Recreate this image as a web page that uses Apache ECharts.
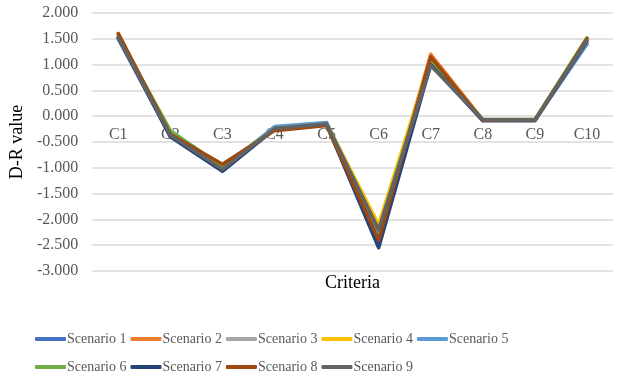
<!DOCTYPE html>
<html>
<head>
<meta charset="utf-8">
<script src="https://cdn.jsdelivr.net/npm/echarts@6/dist/echarts.min.js"></script>
<style>html,body{margin:0;padding:0;background:#fff}#c{width:618px;height:375px}</style>
</head>
<body>
<div id="c"></div>
<script>
const categories = ['C1','C2','C3','C4','C5','C6','C7','C8','C9','C10'];
const seriesNames = ['Scenario 1','Scenario 2','Scenario 3','Scenario 4','Scenario 5','Scenario 6','Scenario 7','Scenario 8','Scenario 9'];
const scenario1 = [1.50, -0.38, -1.05, -0.22, -0.13, -2.45, 1.05, -0.08, -0.07, 1.40];
const scenario2 = [1.60, -0.35, -0.95, -0.25, -0.15, -2.30, 1.20, -0.07, -0.07, 1.48];
const scenario3 = [1.52, -0.30, -1.00, -0.22, -0.13, -2.15, 1.10, -0.06, -0.06, 1.48];
const scenario4 = [1.55, -0.30, -0.98, -0.23, -0.14, -2.10, 1.12, -0.07, -0.07, 1.47];
const scenario5 = [1.52, -0.36, -1.02, -0.20, -0.12, -2.35, 1.08, -0.08, -0.08, 1.40];
const scenario6 = [1.55, -0.28, -0.98, -0.24, -0.15, -2.20, 1.05, -0.07, -0.07, 1.52];
const scenario7 = [1.52, -0.40, -1.07, -0.25, -0.16, -2.55, 1.00, -0.09, -0.09, 1.45];
const scenario8 = [1.60, -0.35, -0.93, -0.28, -0.18, -2.40, 1.15, -0.08, -0.08, 1.50];
const scenario9 = [1.52, -0.37, -1.03, -0.24, -0.15, -2.20, 0.98, -0.07, -0.08, 1.47];
const allData = [scenario1, scenario2, scenario3, scenario4, scenario5, scenario6, scenario7, scenario8, scenario9];
const colors = ['#4472C4','#ED7D31','#A5A5A5','#FFC000','#5B9BD5','#70AD47','#264478','#9E480E','#636363'];
const yTicks = {min: -3, max: 2, interval: 0.5};

const font = '"Liberation Serif", "Times New Roman", serif';
const chart = echarts.init(document.getElementById('c'), null, {renderer: 'canvas'});
const legendCommon = {
  left: 30, orient: 'horizontal', icon: 'roundRect', itemWidth: 31, itemHeight: 4, itemGap: 4,
  textStyle: {fontFamily: font, fontSize: 14, color: '#595959', padding: [0,0,0,-4]}
};
chart.setOption({
  animation: false,
  color: colors,
  grid: {left: 92, right: 5, top: 13, bottom: 104},
  legend: [
    Object.assign({top: 327, data: seriesNames.slice(0,5)}, legendCommon),
    Object.assign({top: 355, data: seriesNames.slice(5)}, legendCommon)
  ],
  graphic: [{
    type: 'text', left: 325, top: 274,
    style: {text: 'Criteria', font: '18px ' + font, fill: '#000'}
  }],
  xAxis: {
    type: 'category', data: categories, boundaryGap: true,
    position: 'bottom', offset: -155,
    axisLine: {show: false, onZero: false},
    axisTick: {show: false},
    axisLabel: {fontFamily: font, fontSize: 16, color: '#595959', margin: 11}
  },
  yAxis: {
    type: 'value', min: yTicks.min, max: yTicks.max, interval: yTicks.interval,
    name: 'D-R value', nameLocation: 'middle', nameGap: 62, nameRotate: 90,
    nameTextStyle: {fontFamily: font, fontSize: 18, color: '#000'},
    axisLine: {show: false}, axisTick: {show: false},
    axisLabel: {fontFamily: font, fontSize: 16, color: '#595959', margin: 14,
      formatter: v => v.toFixed(3)},
    splitLine: {lineStyle: {color: '#D9D9D9', width: 1.5}}
  },
  series: seriesNames.map((n, i) => ({
    name: n, type: 'line', data: allData[i], showSymbol: false, symbol: 'none',
    lineStyle: {width: 3.5, color: colors[i], cap: 'round', join: 'round'},
    itemStyle: {color: colors[i]}
  }))
});
</script>
</body>
</html>
